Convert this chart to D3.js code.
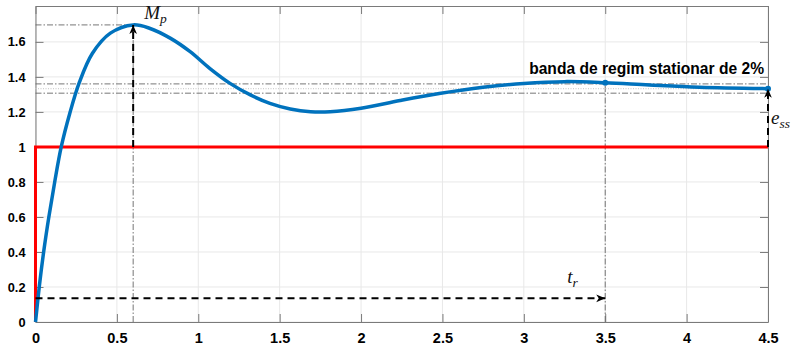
<!DOCTYPE html>
<html>
<head>
<meta charset="utf-8">
<script src="https://cdnjs.cloudflare.com/ajax/libs/d3/7.8.5/d3.min.js"></script>
<style>
  body { margin: 0; background: #fff; }
  svg { display: block; }
</style>
</head>
<body>
<svg id="chart"></svg>
<script>
var W = 795, H = 348;

// step response
var tData = [0, 0.023, 0.05, 0.082, 0.118, 0.158, 0.21, 0.27, 0.35, 0.46, 0.6, 0.70, 0.83, 0.95, 1.07, 1.195, 1.32, 1.44, 1.565, 1.69, 1.81, 2.0, 2.24, 2.48, 2.75, 3.0, 3.25, 3.5, 3.77, 4.08, 4.5];
var yData = [0, 0.2, 0.4, 0.6, 0.8, 1.0, 1.19, 1.37, 1.535, 1.65, 1.697, 1.678, 1.62, 1.544, 1.449, 1.363, 1.297, 1.249, 1.217, 1.201, 1.201, 1.221, 1.265, 1.305, 1.341, 1.363, 1.373, 1.367, 1.354, 1.341, 1.333];
// reference step
var refT = [0, 0, 4.5];
var refY = [0, 1, 1];

var xTicks = [0, 0.5, 1, 1.5, 2, 2.5, 3, 3.5, 4, 4.5];
var yTicks = [0, 0.2, 0.4, 0.6, 0.8, 1, 1.2, 1.4, 1.6];

var tPeak = 0.6, yPeak = 1.697;
var yFinal = 1.333;
var bandHi = 1.36, bandLo = 1.307;
var tSettle = 3.5, ySettle = 1.367;
var yRise = 0.135;

var x = d3.scaleLinear().domain([0, 4.5]).range([35.5, 768]);
var y = d3.scaleLinear().domain([0, 1.805]).range([322, 6]);

var svg = d3.select('#chart').attr('width', W).attr('height', H);
svg.append('rect').attr('width', W).attr('height', H).attr('fill', '#fff');

var defs = svg.append('defs');
defs.append('marker')
    .attr('id', 'ah')
    .attr('viewBox', '-10 -5 12 10')
    .attr('refX', 0).attr('refY', 0)
    .attr('markerWidth', 12).attr('markerHeight', 10)
    .attr('markerUnits', 'userSpaceOnUse')
    .attr('orient', 'auto')
    .append('path')
    .attr('d', 'M0,0 L-9,-3.8 L-6.5,0 L-9,3.8 Z')
    .attr('fill', '#000');

// grid
var grid = svg.append('g');
grid.selectAll('.gx').data(xTicks).enter().append('line')
    .attr('x1', function(d){ return x(d); }).attr('x2', function(d){ return x(d); })
    .attr('y1', y(0)).attr('y2', y(1.805))
    .attr('stroke', '#e8e8e8').attr('stroke-width', 1);
grid.selectAll('.gy').data(yTicks).enter().append('line')
    .attr('x1', x(0)).attr('x2', x(4.5))
    .attr('y1', function(d){ return y(d); }).attr('y2', function(d){ return y(d); })
    .attr('stroke', '#e8e8e8').attr('stroke-width', 1);

// axes (inward ticks on all four sides)
var axB = svg.append('g').attr('transform', 'translate(0,' + y(0) + ')')
    .call(d3.axisBottom(x).tickValues(xTicks).tickSizeInner(-8).tickSizeOuter(0).tickPadding(11)
        .tickFormat(d3.format('')));
var axT = svg.append('g').attr('transform', 'translate(0,' + y(1.805) + ')')
    .call(d3.axisTop(x).tickValues(xTicks).tickSizeInner(-8).tickSizeOuter(0).tickFormat(''));
var axL = svg.append('g').attr('transform', 'translate(' + x(0) + ',0)')
    .call(d3.axisLeft(y).tickValues(yTicks).tickSizeInner(-8).tickSizeOuter(0).tickPadding(10)
        .tickFormat(d3.format('')));
var axR = svg.append('g').attr('transform', 'translate(' + x(4.5) + ',0)')
    .call(d3.axisRight(y).tickValues(yTicks).tickSizeInner(-8).tickSizeOuter(0).tickFormat(''));
[axB, axT, axL, axR].forEach(function(a){
    a.select('.domain').attr('stroke', '#7a7a7a');
    a.selectAll('.tick line').attr('stroke', '#7a7a7a');
    a.selectAll('text').attr('fill', '#000');
});
axB.selectAll('text').style('font', 'bold 14.5px "Liberation Sans", Arial, sans-serif');
axL.selectAll('text').style('font', 'bold 12.8px "Liberation Sans", Arial, sans-serif');

// dash-dot helper lines
var dd = svg.append('g').attr('stroke', '#666').attr('stroke-width', 0.9)
    .attr('stroke-dasharray', '6,2,1.5,2').attr('fill', 'none');
dd.append('line').attr('x1', x(0)).attr('x2', x(tPeak)).attr('y1', y(yPeak)).attr('y2', y(yPeak));
dd.append('line').attr('x1', x(tPeak)).attr('x2', x(tPeak)).attr('y1', y(0)).attr('y2', y(yPeak));
dd.append('line').attr('x1', x(0)).attr('x2', x(4.5)).attr('y1', y(bandHi)).attr('y2', y(bandHi));
dd.append('line').attr('x1', x(0)).attr('x2', x(4.5)).attr('y1', y(bandLo)).attr('y2', y(bandLo));
dd.append('line').attr('x1', x(tSettle)).attr('x2', x(tSettle)).attr('y1', y(0)).attr('y2', y(ySettle));
svg.append('line').attr('x1', x(0)).attr('x2', x(4.5)).attr('y1', y(yFinal)).attr('y2', y(yFinal))
    .attr('stroke', '#cfcfcf').attr('stroke-width', 1.2).attr('stroke-dasharray', '1,1.5');

// reference step (red)
var refPts = refT.map(function(t, i){ return [t, refY[i]]; });
svg.append('path').datum(refPts)
    .attr('d', d3.line().x(function(d){ return x(d[0]); }).y(function(d){ return y(d[1]); }))
    .attr('fill', 'none').attr('stroke', '#ff0000').attr('stroke-width', 3);

// response (blue)
var pts = tData.map(function(t, i){ return [t, yData[i]]; });
svg.append('path').datum(pts)
    .attr('d', d3.line().curve(d3.curveCatmullRom.alpha(0.5))
        .x(function(d){ return x(d[0]); }).y(function(d){ return y(d[1]); }))
    .attr('fill', 'none').attr('stroke', '#0072bd').attr('stroke-width', 3.5)
    .attr('stroke-linejoin', 'round');
svg.selectAll('.mk').data([[tSettle, ySettle], [4.5, yFinal]]).enter().append('circle')
    .attr('cx', function(d){ return x(d[0]); }).attr('cy', function(d){ return y(d[1]); })
    .attr('r', 3).attr('fill', '#0072bd');

// dashed arrows
var ar = svg.append('g').attr('stroke', '#000').attr('stroke-width', 2)
    .attr('stroke-dasharray', '7,5').attr('fill', 'none');
ar.append('line').attr('x1', x(tPeak)).attr('x2', x(tPeak)).attr('y1', y(1)).attr('y2', y(yPeak))
    .attr('marker-end', 'url(#ah)');
ar.append('line').attr('x1', x(0)).attr('x2', x(tSettle)).attr('y1', y(yRise)).attr('y2', y(yRise))
    .attr('marker-end', 'url(#ah)');
ar.append('line').attr('x1', x(4.5)).attr('x2', x(4.5)).attr('y1', y(1)).attr('y2', y(yFinal))
    .attr('marker-end', 'url(#ah)');

// labels
var serif = '"Liberation Serif", "DejaVu Serif", serif';
function mathLabel(px, py, main, sub) {
    var t = svg.append('text').attr('x', px).attr('y', py)
        .style('font-family', serif).style('font-style', 'italic').style('font-size', '19px')
        .attr('fill', '#111');
    t.append('tspan').text(main);
    t.append('tspan').attr('dy', 4).style('font-size', '13.5px').text(sub);
}
mathLabel(x(tPeak) + 11, 19, 'M', 'p');
mathLabel(x(tSettle) - 38, 283, 't', 'r');
mathLabel(x(4.5) + 3, 124, 'e', 'ss');

svg.append('text').attr('x', x(4.5) - 4).attr('y', 74)
    .attr('text-anchor', 'end')
    .style('font', 'bold 15.6px "Liberation Sans", Arial, sans-serif')
    .attr('fill', '#000')
    .text('banda de regim stationar de 2%');
</script>
</body>
</html>
